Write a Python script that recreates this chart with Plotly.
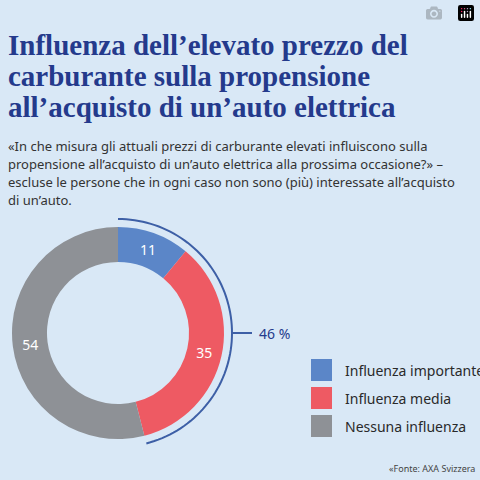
import numpy as np
import plotly.graph_objects as go

labels = ["Influenza importante", "Influenza media", "Nessuna influenza"]
values = [11, 35, 54]
colors = ["#5b86c8", "#ee5a63", "#8e9196"]
bracket_label = "46 %"
title_lines = ["Influenza dell’elevato prezzo del", "carburante sulla propensione", "all’acquisto di un’auto elettrica"]
subtitle_lines = ["«In che misura gli attuali prezzi di carburante elevati influiscono sulla",
                  "propensione all’acquisto di un’auto elettrica alla prossima occasione?» –",
                  "escluse le persone che in ogni caso non sono (più) interessate all’acquisto",
                  "di un’auto."]
source = "«Fonte: AXA Svizzera"

W = H = 480
BG = "#d9e8f6"
DARK = "#243a8c"

def px(x, y):
    return x / W, 1 - y / H

cx, cy, R = 118, 333, 106
fig = go.Figure(go.Pie(
    labels=labels, values=values, marker=dict(colors=colors),
    hole=0.67, sort=False, direction="clockwise", rotation=0,
    textinfo="value", textposition="inside", insidetextorientation="horizontal",
    textfont=dict(color="white", size=14, family="Noto Sans"),
    domain=dict(x=[(cx - R) / W, (cx + R) / W], y=[1 - (cy + R) / H, 1 - (cy - R) / H]),
    showlegend=False, hoverinfo="skip"))

shapes, ann = [], []
frac = (values[0] + values[1]) / sum(values)
rb = 114
th = np.linspace(0, frac * 2 * np.pi, 80)
pts = [px(cx + rb * np.sin(t), cy - rb * np.cos(t)) for t in th]
path = "M " + " L ".join(f"{a:.5f},{b:.5f}" for a, b in pts)
shapes.append(dict(type="path", path=path, xref="paper", yref="paper", line=dict(color="#3d5fa6", width=2)))
x0, y0 = px(cx + rb, cy)
x1, _ = px(cx + rb + 20, cy)
shapes.append(dict(type="line", x0=x0, x1=x1, y0=y0, y1=y0, xref="paper", yref="paper", line=dict(color="#3d5fa6", width=2)))
ann.append(dict(text=bracket_label, x=px(cx + rb + 25, cy)[0], y=y0, xref="paper", yref="paper",
                xanchor="left", yanchor="middle", showarrow=False, font=dict(size=14, color=DARK, family="Noto Sans")))

for i, (lab, col) in enumerate(zip(labels, colors)):
    top = 359 + i * 28
    a0, b0 = px(311, top)
    a1, b1 = px(332, top + 22)
    shapes.append(dict(type="rect", x0=a0, x1=a1, y0=b1, y1=b0, xref="paper", yref="paper", fillcolor=col, line=dict(width=0)))
    ann.append(dict(text=lab, x=px(343, 0)[0], y=px(0, top + 11)[1], xref="paper", yref="paper",
                    xanchor="left", yanchor="middle", showarrow=False, font=dict(size=14, color="#2a2a2a", family="Noto Sans")))

for i, t in enumerate(title_lines):
    ann.append(dict(text=f"<b>{t}</b>", x=px(6, 0)[0], y=px(0, 45 + i * 31)[1], xref="paper", yref="paper",
                    xanchor="left", yanchor="middle", showarrow=False, font=dict(size=29, color=DARK, family="Liberation Serif")))
for i, t in enumerate(subtitle_lines):
    ann.append(dict(text=t, x=px(6, 0)[0], y=px(0, 146 + i * 18)[1], xref="paper", yref="paper",
                    xanchor="left", yanchor="middle", showarrow=False, font=dict(size=13, color="#333333", family="Noto Sans")))
ann.append(dict(text=source, x=px(477, 0)[0], y=px(0, 468)[1], xref="paper", yref="paper", xanchor="right", yanchor="middle",
                showarrow=False, font=dict(size=9, color="#444444", family="Noto Sans")))

fig.update_layout(width=W, height=H, margin=dict(l=0, r=0, t=0, b=0), paper_bgcolor=BG, plot_bgcolor=BG,
                  shapes=shapes, annotations=ann)
fig.write_html("out.html", post_script="document.body.style.margin='0';document.body.style.overflow='hidden';")
